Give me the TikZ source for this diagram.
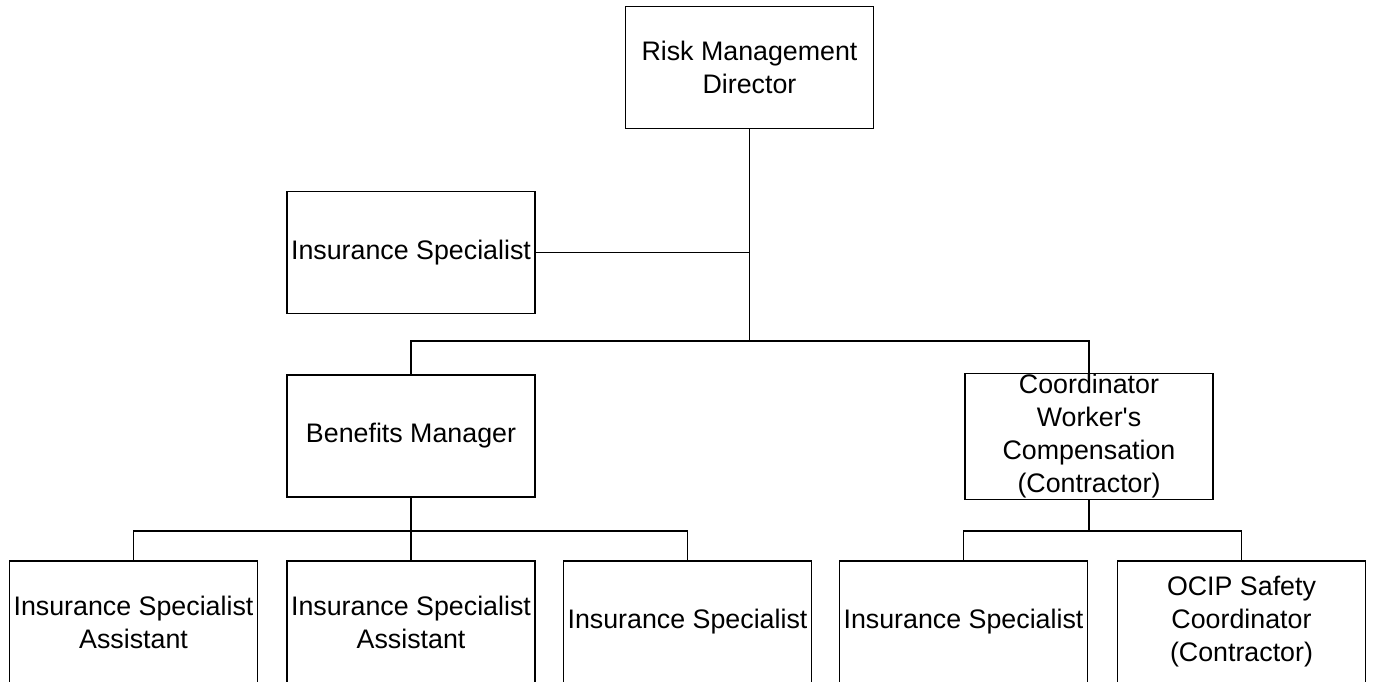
\documentclass[tikz,border=0pt]{standalone}
\usepackage{fontspec}
\setmainfont{Liberation Sans}[Ligatures = TeXOff]
\tikzset{
    post/.style = {draw, rectangle, line width = 1.6pt, minimum width = 248pt, minimum height = 122pt, inner sep = 1pt, align = center, font = \fontsize{26.8}{33}\selectfont},
    link/.style = {line width = 1.6pt}
}
\begin{document}
\begin{tikzpicture}[x = 1pt, y = -1pt]
                \useasboundingbox (0,0) rectangle (1373,681);
                \clip (0,0) rectangle (1373,681);
                \node[post] (dir) at (749.5,67.5) {Risk Management\\Director};
                \node[post] (ins) at (411,252.5) {Insurance Specialist};
                \node[post] (ben) at (411,436) {Benefits Manager};
                \node[post] (coord) at (1089,436.5) {Coordinator\\Worker's\\Compensation\\(Contractor)};
                \node[post] (asstA) at (133.5,622) {Insurance Specialist\\Assistant};
                \node[post] (asstB) at (411,622) {Insurance Specialist\\Assistant};
                \node[post] (insB) at (687.5,622) {Insurance Specialist};
                \node[post] (insC) at (963.5,622) {Insurance Specialist};
                \node[post] (ocip) at (1241.5,622) {OCIP Safety\\Coordinator\\(Contractor)};
                \coordinate (busA) at (749.5,341);
                \coordinate (busB) at (411,531);
                \coordinate (busC) at (1089,531);
                \draw[link] (dir.south) -- (busA);
                \draw[link] (ins.east) -- (ins.east -| dir.south);
                \draw[link] (ben.north) |- (busA) -| (coord.north);
                \draw[link] (ben.south) -- (busB) -- (asstB.north);
                \draw[link] (asstA.north) |- (busB) -| (insB.north);
                \draw[link] (coord.south) -- (busC);
                \draw[link] (insC.north) |- (busC) -| (ocip.north);
            \end{tikzpicture}
\end{document}
